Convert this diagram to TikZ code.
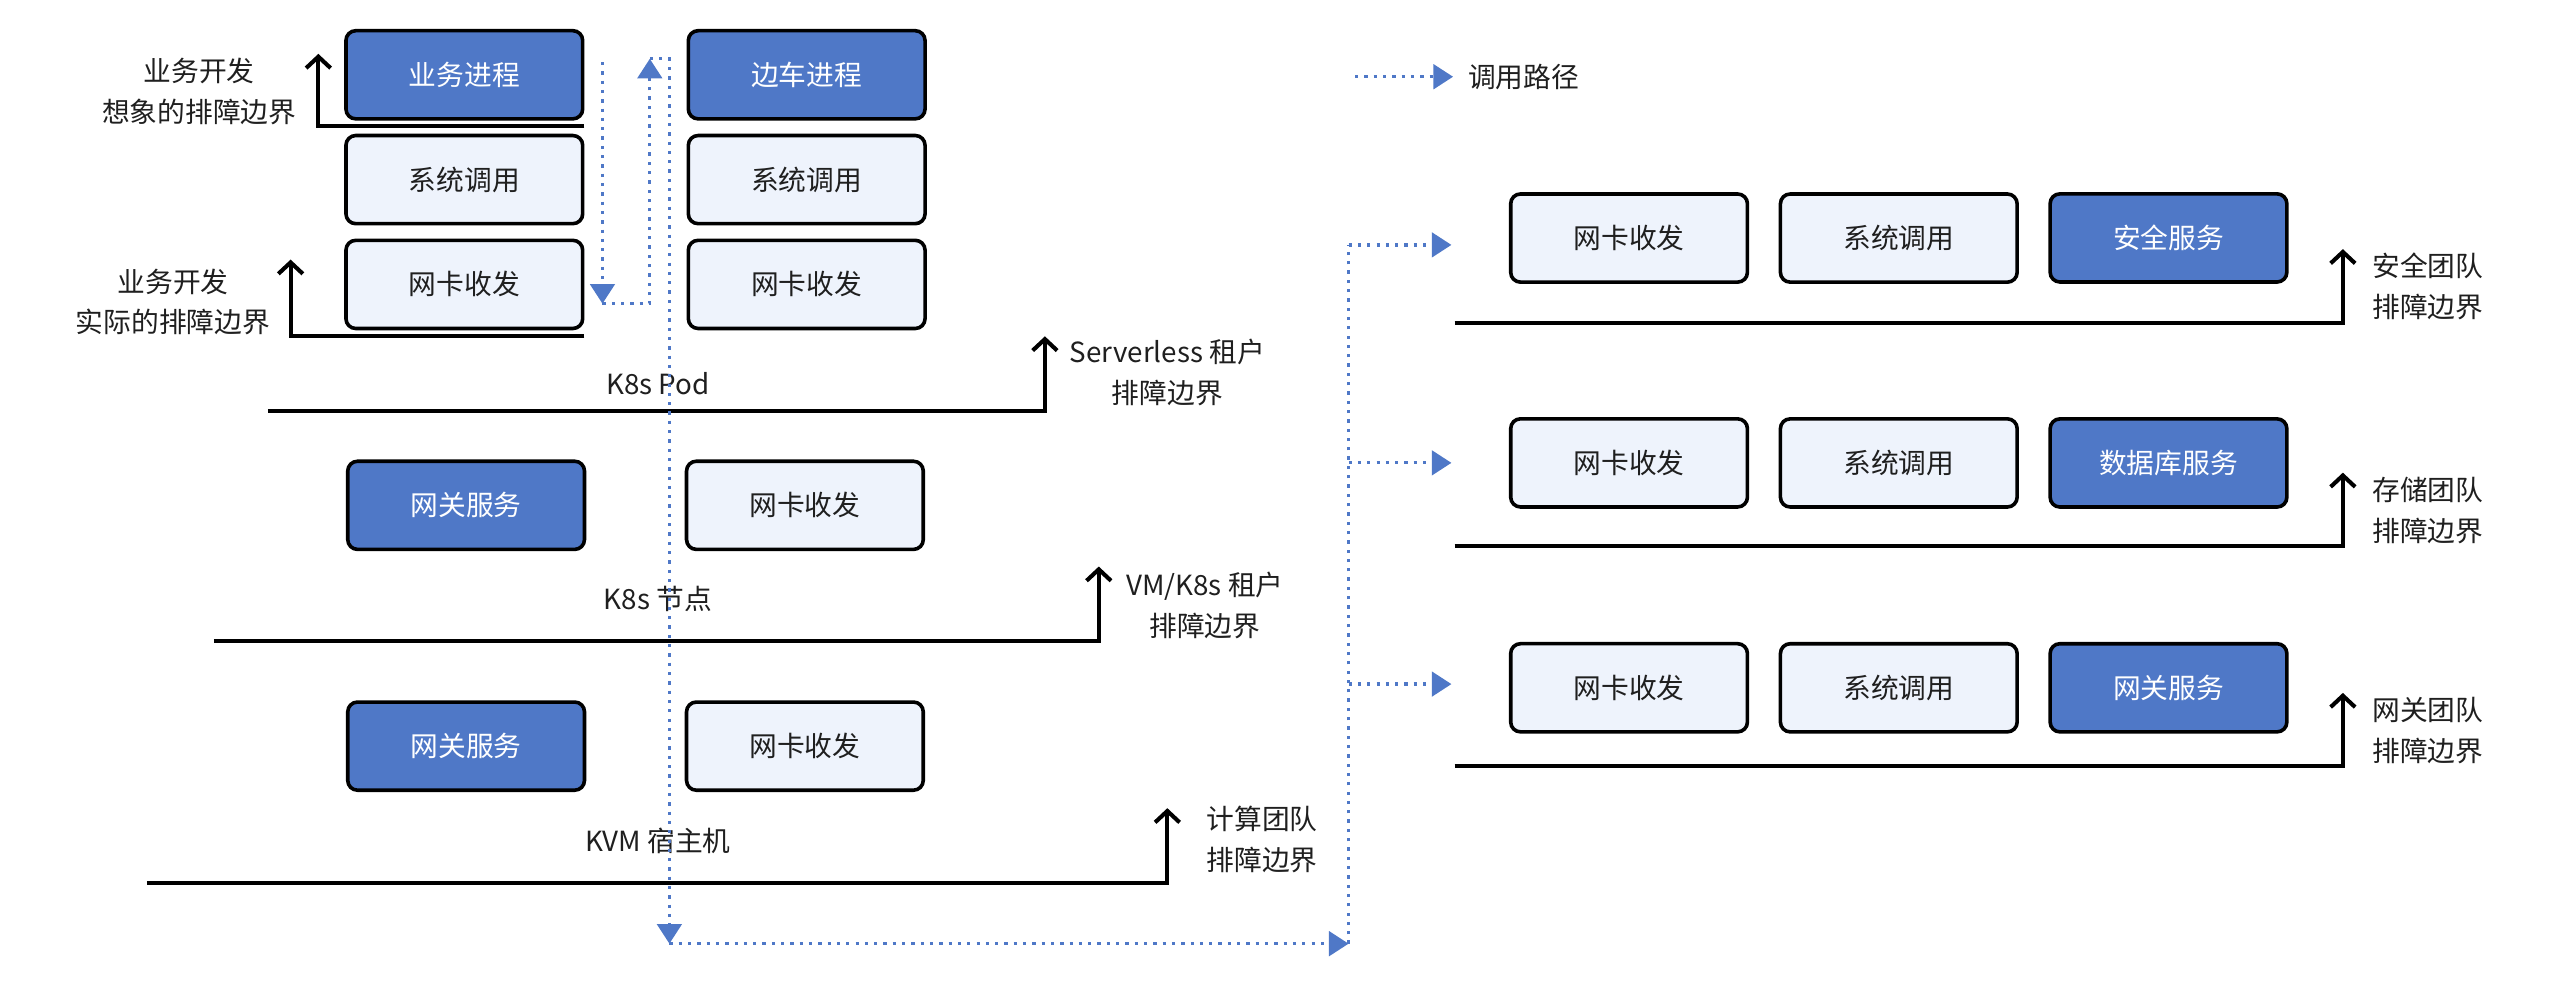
\documentclass[tikz,border=0pt]{standalone}
\usepackage{fontspec}
\setmainfont{Noto Sans CJK SC}
\usepackage{tikz}
\usetikzlibrary{matrix,arrows.meta}
\definecolor{callblue}{RGB}{79,120,199}
\definecolor{paleblue}{RGB}{238,243,252}

\begin{document}
\begin{tikzpicture}[x=1pt,y=-1pt,font=\fontsize{17}{25}\selectfont,
		layer/.style={draw,line width=2.2pt,rounded corners=6pt,fill=paleblue,minimum width=145pt,minimum height=54pt,inner sep=0pt,text=black!88},
		svc/.style={layer,fill=callblue,text=white},
		bound/.style={line width=2.5pt,-{Straight Barb[length=7pt,width=15pt]}},
		callpath/.style={callblue,line width=2pt,dash pattern=on 2pt off 3.7pt},
		tip/.style={-{Triangle[length=12pt,width=15pt]}},
		tag/.style={align=center,inner sep=0pt,text=black!88}]
		\useasboundingbox (0,0) rectangle (1568,607.6);
		%\matrix(m)[matrix of nodes, row sep=8.5pt, column sep=62.5pt]
		\matrix(m)[matrix of nodes, row sep=8pt, column sep=62.5pt, nodes={layer}] at (389.25,110)
		{
			|[svc]| 业务进程 & |[svc]| 边车进程 \\
			系统调用 & 系统调用 \\
			网卡收发 & 网卡收发 \\
		};
		\matrix(r)[matrix of nodes, row sep=81.5pt, column sep=18pt, nodes={layer}] at (1163,283.5)
		{
			网卡收发 & 系统调用 & |[svc]| 安全服务 \\
			网卡收发 & 系统调用 & |[svc]| 数据库服务 \\
			网卡收发 & 系统调用 & |[svc]| 网关服务 \\
		};
		\node[svc] (gw1) at (285.5,309.5) {网关服务};
		\node[layer] (nic1) at (493,309.5) {网卡收发};
		\node[svc] (gw2) at (285.5,457) {网关服务};
		\node[layer] (nic2) at (493,457) {网卡收发};
		\node[tag] (pod) at (403,235) {K8s Pod};
		\node[tag] (k8snode) at (403,367) {K8s 节点};
		\node[tag] (kvm) at (403,515) {KVM 宿主机};

		% boundaries
		\node[tag] (dev1) at (122,56) {业务开发\\想象的排障边界};
		\node[tag] (dev2) at (106,185) {业务开发\\实际的排障边界};
		\node[tag] (sless) at (715,228) {Serverless 租户\\排障边界};
		\node[tag] (vm) at (738,371) {VM/K8s 租户\\排障边界};
		\node[tag] (comp) at (773,514) {计算团队\\排障边界};
		\coordinate (b1a) at (358,77); \coordinate (b1b) at (195,77); \coordinate (b1c) at (195,33);
		\coordinate (b2a) at (358,206); \coordinate (b2b) at (178,206); \coordinate (b2c) at (178,159);
		\coordinate (b3a) at (164,251.5); \coordinate (b3b) at (640,251.5); \coordinate (b3c) at (640,206);
		\coordinate (b4a) at (131,392.5); \coordinate (b4b) at (673,392.5); \coordinate (b4c) at (673,347);
		\coordinate (b5a) at (90,541); \coordinate (b5b) at (715,541); \coordinate (b5c) at (715,495);
		\foreach \b in {1,...,5}
			\draw[bound] (b\b a) -- (b\b b) -- (b\b c);
		\foreach \i/\y/\t in {1/197.6/安全团队, 2/334.5/存储团队, 3/469.4/网关团队}
		{
			\coordinate (t\i a) at (891,\y);
			\coordinate (t\i b) at (1435,\y);
			\coordinate (t\i c) at (1435,\y-45);
			\draw[bound] (t\i a) -- (t\i b) -- (t\i c);
			\node[tag] (team\i) at (1487,\y-22) {\t\\排障边界};
		}

		% call path
		\coordinate (p0) at (369,38);
		\coordinate (p1) at (369,186);
		\coordinate (p2) at (398,186);
		\coordinate (p3) at (398,36);
		\coordinate (p4) at (410,36);
		\coordinate (p5) at (410,578);
		\coordinate (p6) at (826,578);
		\draw[callpath,tip] (p0) -- (p1);
		\draw[callpath,tip] (p1) -- (p2) -- (p3);
		\draw[callpath,tip] (p3) -- (p4) -- (p5);
		\draw[callpath,tip] (p5) -- (p6);
		\coordinate (q0) at (826,150);
		\draw[callpath] (p6) -- (q0);
		\foreach \y [count=\i] in {150,283.5,419}
		{
			\coordinate (q\i a) at (826,\y);
			\coordinate (q\i b) at (889,\y);
			\draw[callpath,tip] (q\i a) -- (q\i b);
		}
		\coordinate (lg0) at (830,47);
		\coordinate (lg1) at (890,47);
		\node[tag,anchor=west] (legend) at (899,47) {调用路径};
		\draw[callpath,tip] (lg0) -- (lg1);
\end{tikzpicture}
\end{document}
